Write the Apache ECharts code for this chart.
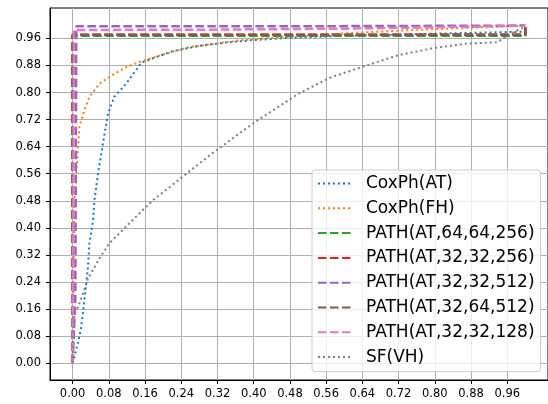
<!DOCTYPE html>
<html>
<head>
<meta charset="utf-8">
<script src="https://cdn.jsdelivr.net/npm/echarts@6/dist/echarts.min.js"></script>
<style>
  html, body { margin: 0; padding: 0; background: #fff; }
  #chart { width: 548px; height: 404px; }
</style>
</head>
<body>
<div id="chart"></div>
<script>
// tick labels (both axes share them)
const tickValues = [0, 0.08, 0.16, 0.24, 0.32, 0.40, 0.48, 0.56, 0.64, 0.72, 0.80, 0.88, 0.96];

// CoxPh(AT)
const coxAtX = [0, 0.004, 0.012, 0.019, 0.026, 0.034, 0.037, 0.045, 0.048, 0.056, 0.067, 0.078, 0.092, 0.118, 0.140, 0.147, 0.155, 0.22, 0.28, 0.338, 0.40, 0.48, 0.60, 0.80, 1.0];
const coxAtY = [0, 0.02, 0.06, 0.107, 0.186, 0.285, 0.354, 0.42, 0.48, 0.56, 0.65, 0.737, 0.787, 0.826, 0.866, 0.88, 0.89, 0.922, 0.938, 0.948, 0.955, 0.962, 0.968, 0.974, 0.98];
// CoxPh(FH)
const coxFhX = [0, 0.002, 0.004, 0.012, 0.015, 0.026, 0.037, 0.059, 0.081, 0.118, 0.147, 0.206, 0.257, 0.323, 0.367, 0.43, 0.50, 0.60, 0.75, 0.85, 1.0];
const coxFhY = [0, 0.25, 0.48, 0.64, 0.70, 0.747, 0.787, 0.826, 0.846, 0.875, 0.89, 0.915, 0.934, 0.946, 0.954, 0.961, 0.966, 0.975, 0.985, 0.99, 0.998];
// PATH variants
const path1X = [0, 0, 1, 1];
const path1Y = [0, 0.968, 0.968, 0.99];
const path2X = [0, 0, 1, 1];
const path2Y = [0, 0.971, 0.971, 1.0];
const path3X = [0, 0.006, 0.008, 0.5, 1, 1];
const path3Y = [0, 0.2, 0.996, 0.996, 0.998, 1.0];
const path4X = [0, 0, 1, 1];
const path4Y = [0, 0.971, 0.971, 0.995];
const path5X = [0, 0.003, 0.3, 0.6, 0.9, 1];
const path5Y = [0, 0.985, 0.986, 0.989, 0.995, 0.998];
// SF(VH)
const sfX = [0, 0.004, 0.012, 0.023, 0.034, 0.059, 0.081, 0.11, 0.147, 0.176, 0.242, 0.308, 0.367, 0.40, 0.48, 0.499, 0.572, 0.638, 0.718, 0.792, 0.865, 0.938, 0.956, 0.982, 1.0];
const sfY = [0, 0.147, 0.166, 0.206, 0.25, 0.309, 0.354, 0.393, 0.442, 0.48, 0.55, 0.62, 0.678, 0.71, 0.78, 0.797, 0.846, 0.875, 0.91, 0.93, 0.944, 0.949, 0.964, 0.984, 0.994];

const names = ['CoxPh(AT)', 'CoxPh(FH)', 'PATH(AT,64,64,256)', 'PATH(AT,32,32,256)', 'PATH(AT,32,32,512)', 'PATH(AT,32,64,512)', 'PATH(AT,32,32,128)', 'SF(VH)'];
const colors = ['#1f77b4', '#ff7f0e', '#2ca02c', '#d62728', '#9467bd', '#8c564b', '#e377c2', '#7f7f7f'];
const xs = [coxAtX, coxFhX, path1X, path2X, path3X, path4X, path5X, sfX];
const ys = [coxAtY, coxFhY, path1Y, path2Y, path3Y, path4Y, path5Y, sfY];
const dotted = [true, true, false, false, false, false, false, true];

function pairs (x, y) {
    return x.map((v, i) => [v, y[i]]);
}

let myChart = echarts.init(document.getElementById('chart'), null, { renderer: 'canvas' });

const axisCommon = {
    type: 'value',
    min: -0.05,
    max: 1.05,
    axisLine: { show: true, onZero: false, lineStyle: { color: '#000', width: 1 } },
    axisTick: { show: true, length: 4, customValues: tickValues, lineStyle: { color: '#000' } },
    axisLabel: {
        customValues: tickValues,
        color: '#000',
        fontSize: 11.5,
        fontFamily: 'DejaVu Sans',
        formatter: v => v.toFixed(2)
    },
    splitLine: { show: true, lineStyle: { color: '#b0b0b0', width: 1 } }
};

let option = {
    animation: false,
    backgroundColor: '#fff',
    grid: {
        left: 50, top: 8, width: 501, height: 372,
        show: true, borderColor: '#000', borderWidth: 1, backgroundColor: 'transparent'
    },
    xAxis: Object.assign({}, axisCommon, { axisLabel: Object.assign({}, axisCommon.axisLabel, { margin: 8 }) }),
    yAxis: Object.assign({}, axisCommon, { axisLabel: Object.assign({}, axisCommon.axisLabel, { margin: 9 }) }),
    legend: {
        orient: 'vertical',
        left: 312,
        top: 170,
        padding: [5, 6, 6, 5],
        itemWidth: 33,
        itemHeight: 17,
        itemGap: 7.8,
        backgroundColor: 'rgba(255,255,255,0.8)',
        borderColor: '#cccccc',
        borderWidth: 1,
        borderRadius: 3,
        itemStyle: { opacity: 0 },
        textStyle: { fontSize: 17, fontFamily: 'DejaVu Sans', color: '#000', lineHeight: 17, padding: [0, 0, 0, 10] },
        data: names
    },
    series: names.map((n, i) => ({
        name: n,
        type: 'line',
        symbol: 'none',
        showSymbol: false,
        z: 2 + i,
        data: pairs(xs[i], ys[i]),
        color: colors[i],
        lineStyle: {
            color: colors[i],
            width: dotted[i] ? 2 : 2.5,
            type: dotted[i] ? [2, 3] : [8.5, 3.5]
        }
    }))
};

myChart.setOption(option);
</script>
</body>
</html>
